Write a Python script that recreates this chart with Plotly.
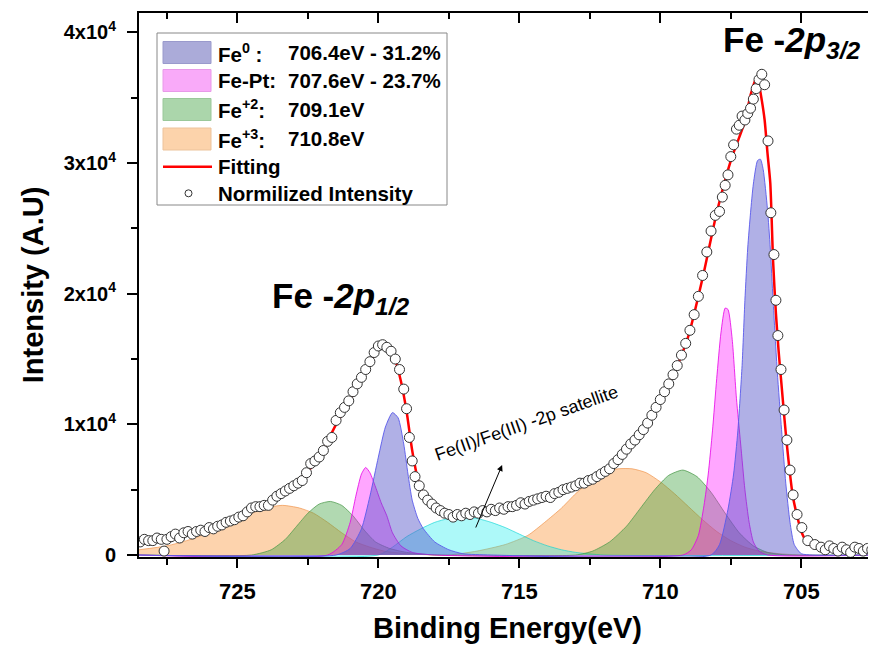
import plotly.graph_objects as go

# ---------------- data (binding energy in eV, intensity in units of 1e4) ----------------
data_x = [728.45, 728.3, 728.15, 728.0, 727.85, 727.7, 727.6, 727.5, 727.35, 727.2, 727.05, 726.9, 726.75,
          726.6, 726.45, 726.3, 726.15, 726.0, 725.85, 725.7, 725.55, 725.4, 725.25, 725.1, 724.95, 724.8,
          724.65, 724.5, 724.35, 724.2, 724.05, 723.9, 723.75, 723.6, 723.45, 723.3, 723.15, 723.0, 722.85,
          722.7, 722.55, 722.4, 722.25, 722.1, 721.95, 721.8, 721.65, 721.5, 721.35, 721.2, 721.05, 720.9,
          720.75, 720.6, 720.45, 720.3, 720.15, 720.0, 719.85, 719.7, 719.55, 719.4, 719.25, 719.1, 719.0,
          718.9, 718.8, 718.7, 718.55, 718.4, 718.25, 718.1, 717.95, 717.8, 717.65, 717.5, 717.35, 717.2,
          717.05, 716.9, 716.75, 716.6, 716.45, 716.3, 716.15, 716.0, 715.85, 715.7, 715.55, 715.4, 715.25,
          715.1, 714.95, 714.8, 714.65, 714.5, 714.35, 714.2, 714.05, 713.9, 713.75, 713.6, 713.45, 713.3,
          713.15, 713.0, 712.85, 712.7, 712.55, 712.4, 712.25, 712.1, 711.95, 711.8, 711.65, 711.5, 711.35,
          711.2, 711.05, 710.9, 710.75, 710.6, 710.45, 710.3, 710.15, 710.0, 709.85, 709.7, 709.55, 709.4,
          709.25, 709.1, 708.95, 708.8, 708.65, 708.5, 708.35, 708.2, 708.05, 707.9, 707.8, 707.7, 707.6,
          707.5, 707.4, 707.3, 707.2, 707.1, 707.0, 706.9, 706.8, 706.7, 706.6, 706.5, 706.4, 706.3, 706.18,
          706.08, 705.97, 705.9, 705.83, 705.72, 705.61, 705.51, 705.4, 705.29, 705.15, 704.98, 704.77,
          704.52, 704.3, 704.15, 704.0, 703.85, 703.7, 703.55, 703.4, 703.25, 703.1, 702.95, 702.8, 702.65,
          702.5]
data_y = [0.10, 0.12, 0.11, 0.11, 0.13, 0.12, 0.03, 0.12, 0.14, 0.16, 0.13, 0.17, 0.18,
          0.16, 0.18, 0.19, 0.18, 0.21, 0.20, 0.22, 0.23, 0.25, 0.26, 0.27, 0.29, 0.30,
          0.33, 0.36, 0.37, 0.37, 0.38, 0.38, 0.42, 0.45, 0.47, 0.49, 0.51, 0.53, 0.55,
          0.57, 0.63, 0.70, 0.72, 0.75, 0.80, 0.87, 0.90, 1.03, 1.09, 1.13, 1.18, 1.25,
          1.31, 1.36, 1.42, 1.48, 1.55, 1.60, 1.61, 1.59, 1.56, 1.50, 1.42, 1.27, 1.12,
          0.90, 0.72, 0.60, 0.53, 0.46, 0.42, 0.39, 0.36, 0.34, 0.32, 0.31, 0.29, 0.31,
          0.30, 0.32, 0.31, 0.33, 0.32, 0.34, 0.33, 0.35, 0.34, 0.36, 0.35, 0.37, 0.37,
          0.38, 0.40, 0.39, 0.41, 0.42, 0.43, 0.44, 0.45, 0.44, 0.47, 0.48, 0.50, 0.51,
          0.52, 0.53, 0.55, 0.55, 0.57, 0.58, 0.60, 0.62, 0.64, 0.66, 0.70, 0.73, 0.77,
          0.81, 0.85, 0.88, 0.92, 0.96, 1.01, 1.07, 1.13, 1.19, 1.25, 1.31, 1.38, 1.45,
          1.53, 1.62, 1.72, 1.84, 1.98, 2.14, 2.32, 2.48, 2.60, 2.63, 2.74, 2.83, 2.91,
          3.05, 3.14, 3.26, 3.29, 3.36, 3.33, 3.38, 3.42, 3.49, 3.57, 3.64, 3.68, 3.60, 3.17,
          2.62, 2.30, 1.95, 1.68, 1.42, 1.11, 0.88, 0.65, 0.46, 0.31, 0.21, 0.11,
          0.08, 0.06, 0.04, 0.07, 0.05, 0.03, 0.06, 0.04, 0.02, 0.06, 0.05, 0.03, 0.05,
          0.04]

fit_x = [728.45, 727.5, 726.5, 725.5, 724.5, 723.5, 722.5, 722.0, 721.5, 721.0, 720.5, 720.0, 719.8,
         719.6, 719.4, 719.2, 719.0, 718.8, 718.6, 718.4, 718.1, 717.7, 717.2, 716.5, 715.5, 714.5,
         713.5, 712.5, 712.0, 711.5, 711.0, 710.5, 710.0, 709.5, 709.0, 708.5, 708.0, 707.5, 707.0,
         706.8, 706.6, 706.5, 706.4, 706.3, 706.2, 706.1, 706.0, 705.9, 705.8, 705.7, 705.6, 705.5,
         705.4, 705.3, 705.15, 705.0, 704.8, 704.5, 704.0, 703.0, 702.4]
fit_y = [0.09, 0.12, 0.17, 0.23, 0.34, 0.46, 0.64, 0.79, 1.00, 1.19, 1.40, 1.58, 1.60,
         1.57, 1.49, 1.33, 1.10, 0.80, 0.58, 0.46, 0.39, 0.33, 0.31, 0.32, 0.36, 0.42,
         0.49, 0.57, 0.62, 0.72, 0.86, 1.00, 1.19, 1.40, 1.68, 2.12, 2.62, 3.02, 3.32,
         3.52, 3.65, 3.60, 3.48, 3.33, 3.08, 2.85, 2.25, 1.85, 1.55, 1.30, 1.05, 0.82,
         0.62, 0.45, 0.30, 0.18, 0.10, 0.06, 0.04, 0.04, 0.04]

# Fit components (2p1/2 and 2p3/2 parts of each species)
fe0_x = [728.49, 721.5, 721.0, 720.6, 720.3, 720.0, 719.75, 719.5, 719.3, 719.1, 718.95, 718.8, 718.6,
         718.4, 718.0, 717.5, 717.0, 716.0, 708.2, 707.9, 707.6, 707.4, 707.25, 707.1, 707.0, 706.9,
         706.8, 706.7, 706.55, 706.45, 706.35, 706.2, 706.1, 706.0, 705.85, 705.7, 705.55, 705.4,
         705.25, 705.0, 704.6, 702.35]
fe0_y = [0.0, 0.0, 0.05, 0.2, 0.45, 0.75, 0.98, 1.09, 1.05, 0.85, 0.62, 0.42, 0.28,
         0.20, 0.10, 0.04, 0.01, 0.0, 0.0, 0.08, 0.35, 0.62, 0.95, 1.45, 1.95, 2.35,
         2.62, 2.84, 3.02, 3.03, 2.95, 2.65, 2.35, 1.95, 1.40, 0.96, 0.55, 0.25,
         0.08, 0.01, 0.0, 0.0]

fept_x = [728.49, 721.8, 721.3, 721.0, 720.8, 720.6, 720.45, 720.3, 720.1, 719.9, 719.7, 719.5, 719.2,
          718.8, 718.0, 709.2, 708.9, 708.65, 708.45, 708.3, 708.15, 708.0, 707.85, 707.7, 707.6,
          707.45, 707.3, 707.15, 707.0, 706.85, 706.7, 706.5, 706.2, 702.35]
fept_y = [0.0, 0.0, 0.08, 0.25, 0.45, 0.62, 0.67, 0.63, 0.52, 0.40, 0.30, 0.17, 0.07,
          0.02, 0.0, 0.0, 0.04, 0.15, 0.38, 0.62, 0.95, 1.35, 1.70, 1.89, 1.88,
          1.65, 1.20, 0.85, 0.50, 0.25, 0.10, 0.03, 0.0, 0.0]

fe2_x = [728.49, 724.5, 723.8, 723.3, 722.9, 722.5, 722.1, 721.7, 721.3, 720.9, 720.5, 720.1, 719.6,
         719.0, 718.0, 713.0, 712.4, 711.8, 711.2, 710.7, 710.2, 709.7, 709.2, 708.7, 708.2, 707.7,
         707.2, 706.7, 706.2, 705.5, 702.35]
fe2_y = [0.0, 0.0, 0.04, 0.12, 0.22, 0.32, 0.39, 0.41, 0.38, 0.30, 0.19, 0.10, 0.05,
         0.02, 0.0, 0.0, 0.03, 0.10, 0.22, 0.36, 0.50, 0.61, 0.65, 0.60, 0.48, 0.32,
         0.17, 0.07, 0.02, 0.0, 0.0]

fe3_x = [728.49, 727.5, 726.8, 726.0, 725.3, 724.6, 724.0, 723.4, 722.8, 722.3, 721.8, 721.3, 720.8,
         720.3, 719.8, 719.0, 718.0, 717.5, 716.5, 715.5, 714.7, 714.1, 713.5, 713.0, 712.5, 712.0,
         711.5, 711.0, 710.5, 710.0, 709.5, 709.0, 708.5, 708.0, 707.5, 707.0, 706.5, 705.8, 705.0,
         702.35]
fe3_y = [0.04, 0.07, 0.11, 0.17, 0.24, 0.31, 0.36, 0.38, 0.36, 0.32, 0.25, 0.17, 0.10,
         0.06, 0.03, 0.01, 0.0, 0.0, 0.03, 0.08, 0.15, 0.25, 0.36, 0.47, 0.56, 0.63,
         0.66, 0.66, 0.63, 0.56, 0.47, 0.37, 0.27, 0.18, 0.11, 0.06, 0.03, 0.01, 0.0,
         0.0]

sat_x = [728.49, 720.0, 719.5, 719.0, 718.5, 718.0, 717.5, 717.0, 716.5, 716.0, 715.5, 715.0, 714.5,
         714.0, 713.5, 713.0, 712.0, 702.35]
sat_y = [0.0, 0.0, 0.06, 0.14, 0.20, 0.25, 0.28, 0.29, 0.28, 0.25, 0.21, 0.16, 0.11,
         0.07, 0.04, 0.02, 0.0, 0.0]

x_ticks = [725, 720, 715, 710, 705]
x_minor = [727.5, 722.5, 717.5, 712.5, 707.5, 702.5]
y_ticks = [0, 1, 2, 3, 4]
y_ticktext = ["0", "1x10<sup>4</sup>", "2x10<sup>4</sup>", "3x10<sup>4</sup>", "4x10<sup>4</sup>"]
y_minor = [0.5, 1.5, 2.5, 3.5]

SCALE = 1e4
legend_labels = [("Fe<sup>0</sup> :", "706.4eV - 31.2%"),
                 ("Fe-Pt:", "707.6eV - 23.7%"),
                 ("Fe<sup>+2</sup>:", "709.1eV"),
                 ("Fe<sup>+3</sup>:", "710.8eV")]

# ---------------- figure ----------------
FONT = "Arial, Liberation Sans, sans-serif"
OFF = 8                      # default body margin of the html page
W, H = 876 - OFF, 650 - OFF
L, R, T, B = 139 - OFF, 0, 5, 93
X_RANGE = [728.49, 702.35]
Y_RANGE = [-153, 41492]

def sc(v):
    return [a * SCALE for a in v]

fig = go.Figure()

comps = [
    (fe3_x, fe3_y, "rgba(250,150,60,0.42)", "rgba(240,150,80,0.7)"),
    (sat_x, sat_y, "rgba(0,235,235,0.32)", "rgba(0,210,210,0.6)"),
    (fe2_x, fe2_y, "rgba(60,160,60,0.40)", "rgba(70,150,70,0.7)"),
    (fept_x, fept_y, "rgba(255,0,255,0.35)", "rgba(230,0,230,0.8)"),
    (fe0_x, fe0_y, "rgba(80,80,200,0.45)", "rgba(90,90,235,0.9)"),
]
for cx, cy, fc, lc in comps:
    fig.add_trace(go.Scatter(x=cx, y=sc(cy), mode="lines", fill="tozeroy", fillcolor=fc,
                             line=dict(color=lc, width=1, shape="spline", smoothing=0.6),
                             showlegend=False, hoverinfo="skip"))

fig.add_trace(go.Scatter(x=fit_x, y=sc(fit_y), mode="lines",
                         line=dict(color="#ff0000", width=2.5, shape="spline", smoothing=0.6),
                         showlegend=False))
fig.add_trace(go.Scatter(x=data_x, y=sc(data_y), mode="markers",
                         marker=dict(symbol="circle", size=10, color="white",
                                     line=dict(color="#333333", width=1)),
                         showlegend=False))
# invisible trace for the top axis
fig.add_trace(go.Scatter(x=[715], y=[0], xaxis="x2", mode="markers",
                         marker=dict(opacity=0), showlegend=False, hoverinfo="skip"))

axis_common = dict(showgrid=False, zeroline=False, showline=True, linecolor="black", linewidth=2)

fig.update_layout(
    width=W, height=H, margin=dict(l=L, r=R, t=T, b=B, autoexpand=False),
    plot_bgcolor="white", paper_bgcolor="white",
    font=dict(family=FONT, color="black"),
    xaxis=dict(range=X_RANGE, tickmode="array", tickvals=x_ticks, ticks="outside", ticklen=9,
               tickwidth=2, tickcolor="black",
               tickfont=dict(size=22, family=FONT, weight="bold"), ticklabelstandoff=5,
               minor=dict(tickmode="array", tickvals=x_minor, ticks="outside", ticklen=6,
                          tickwidth=2, tickcolor="black"),
               title=dict(text="Binding Energy(eV)", font=dict(size=29, family=FONT, weight="bold"),
                          standoff=14),
               **axis_common),
    xaxis2=dict(range=X_RANGE, overlaying="x", side="top", anchor="y", tickmode="array",
                tickvals=x_ticks, ticks="inside", ticklen=10, tickwidth=2, tickcolor="black",
                showticklabels=False,
                minor=dict(tickmode="array", tickvals=x_minor, ticks="inside", ticklen=6,
                           tickwidth=2, tickcolor="black"),
                **axis_common),
    yaxis=dict(range=Y_RANGE, tickmode="array", tickvals=sc(y_ticks), ticktext=y_ticktext,
               ticks="outside", ticklen=10, tickwidth=2, tickcolor="black",
               tickfont=dict(size=20, family=FONT, weight="bold"), ticklabelstandoff=7,
               minor=dict(tickmode="array", tickvals=sc(y_minor), ticks="outside", ticklen=6,
                          tickwidth=2, tickcolor="black"),
               title=dict(text="Intensity (A.U)", font=dict(size=29, family=FONT, weight="bold"),
                          standoff=12),
               **axis_common),
)

# ---------------- peak labels and satellite annotation ----------------
fig.add_annotation(x=707.84, y=3.93 * SCALE, xref="x", yref="y", xanchor="left", yanchor="middle",
                   text="Fe -<i>2p</i><sub><i>3/2</i></sub>", showarrow=False,
                   font=dict(size=35, family=FONT, weight="bold"))
fig.add_annotation(x=723.85, y=1.97 * SCALE, xref="x", yref="y", xanchor="left", yanchor="middle",
                   text="Fe -<i>2p</i><sub><i>1/2</i></sub>", showarrow=False,
                   font=dict(size=35, family=FONT, weight="bold"))
fig.add_annotation(x=715.61, y=0.689 * SCALE, xref="x", yref="y", ax=-27, ay=64,
                   showarrow=True, arrowhead=2, arrowsize=1.2, arrowwidth=1, arrowcolor="black",
                   text="")
fig.add_annotation(x=714.73, y=1.01 * SCALE, xref="x", yref="y", text="Fe(II)/Fe(III) -2p satellite",
                   showarrow=False, textangle=-19.5, font=dict(size=18, family=FONT))

# ---------------- manual legend (positions given in page pixels) ----------------
PW, PH = W - L - R, H - T - B

def px(xp):
    return (xp - OFF - L) / PW

def py(yp):
    return (H - B - (yp - OFF)) / PH

fig.add_shape(type="rect", xref="paper", yref="paper", x0=px(157), x1=px(447), y0=py(33), y1=py(205),
              line=dict(color="#888888", width=1), fillcolor="white", layer="above")
swatches = ["#ababd9", "#f9aaf9", "#abd6ab", "#fcd3ab"]
sw_borders = ["#9a9acc", "#e89ae8", "#9ac89a", "#ecc39b"]
rows = [52.5, 80.5, 109.5, 139]
LEG_FONT = dict(size=20.5, family=FONT, weight="bold")
for (lab, val), c, bc, yc in zip(legend_labels, swatches, sw_borders, rows):
    fig.add_shape(type="rect", xref="paper", yref="paper", x0=px(163), x1=px(211),
                  y0=py(yc + 11), y1=py(yc - 11), fillcolor=c, line=dict(color=bc, width=1),
                  layer="above")
    fig.add_annotation(xref="paper", yref="paper", x=px(216), y=py(yc), xanchor="left",
                       yanchor="middle", text=lab, showarrow=False, font=LEG_FONT)
    fig.add_annotation(xref="paper", yref="paper", x=px(286), y=py(yc), xanchor="left",
                       yanchor="middle", text=val, showarrow=False, font=LEG_FONT)
fig.add_shape(type="line", xref="paper", yref="paper", x0=px(163), x1=px(212), y0=py(166.7),
              y1=py(166.7), line=dict(color="#ff0000", width=2.5), layer="above")
fig.add_annotation(xref="paper", yref="paper", x=px(216), y=py(166), xanchor="left", yanchor="middle",
                   text="Fitting", showarrow=False, font=LEG_FONT)
fig.add_shape(type="circle", xref="paper", yref="paper", x0=px(185), x1=px(192), y0=py(189.8),
              y1=py(196.8), line=dict(color="#333333", width=1), fillcolor="white", layer="above")
fig.add_annotation(xref="paper", yref="paper", x=px(216), y=py(193), xanchor="left", yanchor="middle",
                   text="Normilized Intensity", showarrow=False, font=LEG_FONT)

fig.write_html("out.html")
